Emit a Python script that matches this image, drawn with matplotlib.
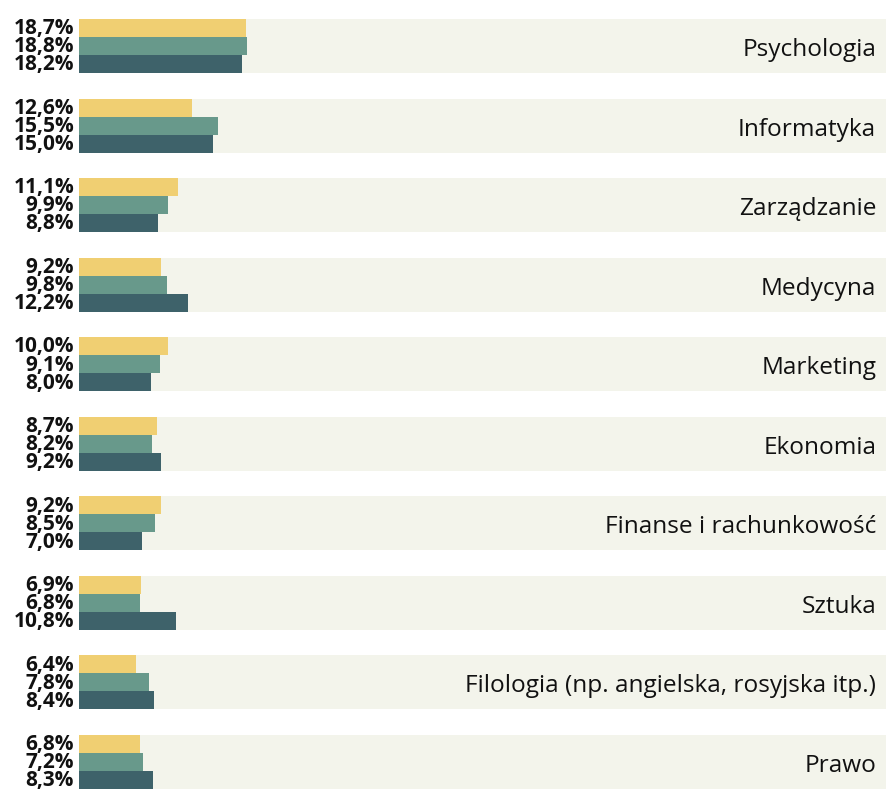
import matplotlib
matplotlib.use("Agg")
import matplotlib.pyplot as plt
import numpy as np

categories = ["Psychologia", "Informatyka", "Zarządzanie", "Medycyna", "Marketing",
              "Ekonomia", "Finanse i rachunkowość", "Sztuka",
              "Filologia (np. angielska, rosyjska itp.)", "Prawo"]
series_a = [18.7, 12.6, 11.1, 9.2, 10.0, 8.7, 9.2, 6.9, 6.4, 6.8]
series_b = [18.8, 15.5, 9.9, 9.8, 9.1, 8.2, 8.5, 6.8, 7.8, 7.2]
series_c = [18.2, 15.0, 8.8, 12.2, 8.0, 9.2, 7.0, 10.8, 8.4, 8.3]
colors = ["#F0CF72", "#68998B", "#3E626A"]
band_color = "#F3F4EB"

fig = plt.figure(figsize=(8.86, 7.96), dpi=100)
W, H = 886, 796
left, right, top, bottom = 79, 886, 19, 789
ax = fig.add_axes([left / W, 1 - bottom / H, (right - left) / W, (bottom - top) / H])

n = len(categories)
y = np.arange(n)
band_h = 0.68
bar_h = band_h / 3
xmax = 90.2

ax.barh(y, [xmax] * n, height=band_h, color=band_color, zorder=0)
for k, (vals, col) in enumerate(zip([series_a, series_b, series_c], colors)):
    pos = y - bar_h + k * bar_h
    ax.barh(pos, vals, height=bar_h, color=col, zorder=2)
    for p, v in zip(pos, vals):
        ax.text(-0.55, p + 0.01, f"{v:.1f}%".replace(".", ","), ha="right", va="center",
                fontsize=15.0, fontweight="bold", family="Open Sans", color="#111111",
                clip_on=False)

for i, c in enumerate(categories):
    ax.text(xmax - 1.1, i + 0.05, c, ha="right", va="center", fontsize=17.6,
            family="Open Sans", color="#111111")

ax.set_xlim(0, xmax)
ax.set_ylim(n - 1 + band_h / 2, -band_h / 2)
ax.axis("off")
fig.savefig("out.png", dpi=100)
